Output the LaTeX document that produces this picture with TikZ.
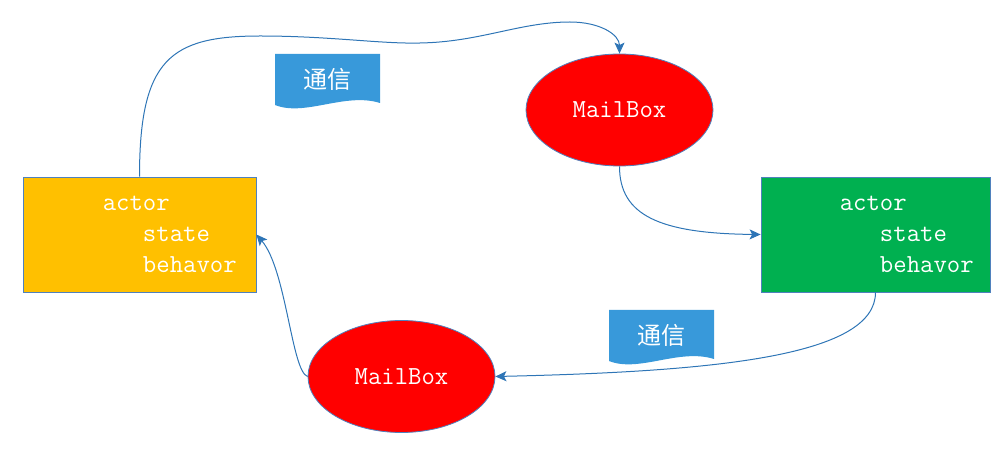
\documentclass[tikz,border=0pt]{standalone}
\usepackage{fontspec}
\newfontfamily\cjk{Noto Sans CJK SC}
\usepackage{xcolor}
\usepackage{tikz}
\usetikzlibrary{shapes.geometric, arrows.meta, positioning}

\definecolor{actorOrange}{HTML}{FFC000}
\definecolor{actorGreen}{HTML}{00B050}
\definecolor{boxRed}{HTML}{FF0000}
\definecolor{docBlue}{HTML}{3899DA}
\definecolor{lineBlue}{HTML}{2E75B6}
\definecolor{edgeBlue}{HTML}{4F81BD}

\tikzset{
    actorbox/.style={draw=edgeBlue, line width=0.8pt, minimum height=115pt, inner sep=0pt},
    actortext/.style={text=white, font=\ttfamily\fontsize{26}{31}\selectfont, align=left, inner sep=0pt, anchor=west},
    mailbox/.style={ellipse, draw=edgeBlue, fill=boxRed, line width=0.8pt, minimum width=187pt, minimum height=112pt, inner sep=0pt, text=white, font=\ttfamily\fontsize{26}{30}\selectfont},
    doclabel/.style={inner sep=0pt, text=white, font=\cjk\fontsize{24}{28}\selectfont},
    conn/.style={lineBlue, line width=1pt, -{Stealth[length=11pt, width=10pt, inset=2.5pt]}}
}

\begin{document}
\begin{tikzpicture}[x=1pt, y=-1pt]
    \useasboundingbox (0,0) rectangle (1005,454);

    % Actors
    \node[actorbox, fill=actorOrange, minimum width=233pt] (actorA) at (139.5,234.5) {};
    \node[actortext] (actorAtxt) at ([xshift=80pt]actorA.west) {actor\\\phantom{act}state\\\phantom{act}behavor};
    \node[actorbox, fill=actorGreen, minimum width=229pt] (actorB) at (875.5,234.5) {};
    \node[actortext] (actorBtxt) at ([xshift=79pt]actorB.west) {actor\\\phantom{act}state\\\phantom{act}behavor};

    % Mailboxes
    \node[mailbox] (mboxA) at (619.5,110) {MailBox};
    \node[mailbox] (mboxB) at (401.5,376.5) {MailBox};

    % Messages
    \fill[docBlue] (275,54) -- (380,54) -- (380,103) .. controls (345,92) and (305,117) .. (275,105) -- cycle;
    \node[doclabel] (msgA) at (327.5,79) {通信};
    \fill[docBlue] (609,310) -- (714,310) -- (714,359) .. controls (679,348) and (639,373) .. (609,361) -- cycle;
    \node[doclabel] (msgB) at (661.5,335) {通信};

    % Connectors
    \coordinate (wA) at (260,36);
    \coordinate (wB) at (420,43);
    \coordinate (wC) at (570,22);
    \draw[conn] (actorA.north) .. controls +(0,-117) and +(-90,0) .. (wA)
        .. controls +(70,0) and +(-40,1) .. (wB)
        .. controls +(60,-1) and +(-50,0) .. (wC)
        .. controls +(30,0) and +(0,-19) .. (mboxA.north);
    \draw[conn] (mboxA.south) .. controls +(0,49) and +(-101,-1) .. (actorB.west);
    \draw[conn] (actorB.south) .. controls +(0,63) and +(225,-5) .. (mboxB.east);
    \draw[conn] (mboxB.west) .. controls +(-16,-5) and +(30,35) .. (actorA.east);
\end{tikzpicture}
\end{document}
